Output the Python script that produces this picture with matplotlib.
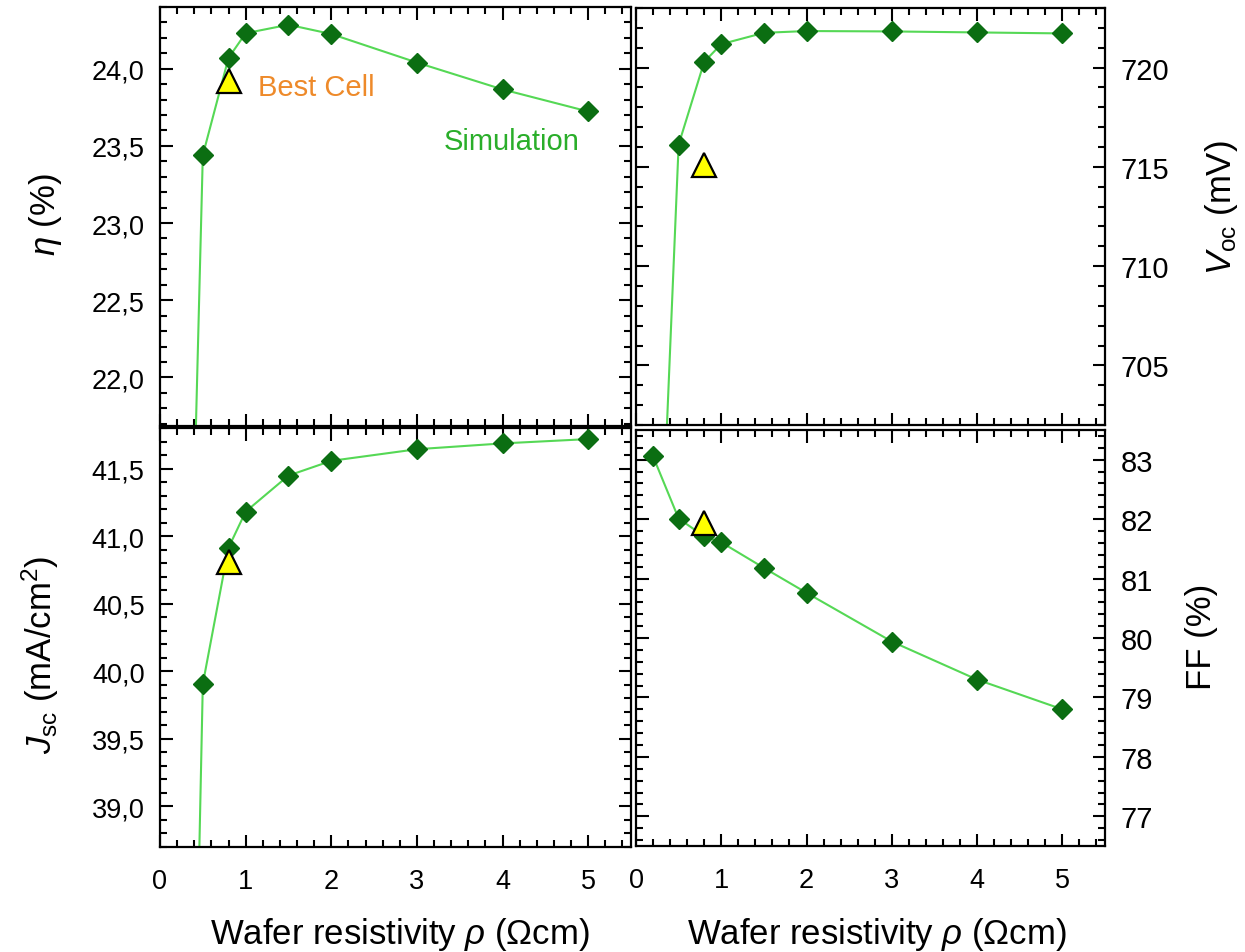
import numpy as np
import matplotlib
matplotlib.use("Agg")
import matplotlib.pyplot as plt
from matplotlib.ticker import MultipleLocator, FuncFormatter

plt.rcParams["font.family"] = ["Liberation Sans", "DejaVu Sans"]
plt.rcParams["mathtext.fontset"] = "custom"
plt.rcParams["mathtext.rm"] = "Liberation Sans"
plt.rcParams["mathtext.it"] = "Liberation Sans:italic"

# ── data ─────────────────────────────────────────────────────────────────────
rho_sim = [0.2, 0.5, 0.8, 1.0, 1.5, 2.0, 3.0, 4.0, 5.0]
eta_sim = [16.9, 23.44, 24.07, 24.23, 24.285, 24.225, 24.04, 23.866, 23.723]
voc_sim = [685.2, 716.12, 720.29, 721.18, 721.75, 721.84, 721.82, 721.77, 721.72]
jsc_sim = [30.9, 39.906, 40.914, 41.181, 41.448, 41.557, 41.643, 41.686, 41.718]
ff_sim = [83.056, 82.01, 81.71, 81.61, 81.18, 80.76, 79.94, 79.30, 78.80]

rho_best = [0.8]
eta_best = [23.92]
voc_best = [715.1]
jsc_best = [40.81]
ff_best = [81.93]

LINE_C = "#55d855"
MARK_C = "#0b6e12"
TRI_C = "#ffff00"

W, H = 1245, 953
fig = plt.figure(figsize=(W / 100, H / 100), dpi=100)


def px_axes(x0, y0, x1, y1):
    return fig.add_axes([x0 / W, 1 - y1 / H, (x1 - x0) / W, (y1 - y0) / H])


ax_eta = px_axes(160, 8, 631, 427)
ax_voc = px_axes(636, 9, 1105, 426)
ax_jsc = px_axes(160, 429, 631, 848)
ax_ff = px_axes(636, 431, 1105, 847)

comma = FuncFormatter(lambda v, _: f"{v:.1f}".replace(".", ","))
panels = [
    (ax_eta, eta_sim, eta_best, (21.685, 24.40), 0.5, 0.1, comma, 19.5),
    (ax_voc, voc_sim, voc_best, (702, 723), 5, 1, None, 21),
    (ax_jsc, jsc_sim, jsc_best, (38.7, 41.8), 0.5, 0.1, comma, 19.5),
    (ax_ff, ff_sim, ff_best, (76.5, 83.5), 1, 0.2, None, 21),
]

for ax, ysim, ybest, ylim, major, minor, fmt, fs in panels:
    ax.plot(rho_sim, ysim, color=LINE_C, lw=1.5, zorder=2)
    ax.plot(rho_sim, ysim, ls="none", marker="D", ms=10, color=MARK_C,
            mec=MARK_C, zorder=3)
    ax.plot(rho_best, ybest, ls="none", marker="^", ms=17.5, mfc=TRI_C,
            mec="black", mew=1.6, zorder=4)
    ax.set_xlim(0, 5.5)
    ax.set_ylim(*ylim)
    ax.xaxis.set_major_locator(MultipleLocator(1))
    ax.xaxis.set_minor_locator(MultipleLocator(0.2))
    ax.yaxis.set_major_locator(MultipleLocator(major))
    ax.yaxis.set_minor_locator(MultipleLocator(minor))
    if fmt is not None:
        ax.yaxis.set_major_formatter(fmt)
    ax.tick_params(which="both", direction="in", top=True, bottom=True,
                   left=True, right=True, width=1.5)
    ax.tick_params(which="major", length=9, labelsize=19.5, pad=11)
    ax.tick_params(which="minor", length=5)
    ax.tick_params(axis="y", labelsize=fs)
    ax.tick_params(axis="x", pad=15)
    for sp in ax.spines.values():
        sp.set_linewidth(1.6)

for ax in (ax_eta, ax_voc):
    ax.tick_params(labelbottom=False)
for ax in (ax_voc, ax_ff):
    ax.tick_params(labelleft=False, labelright=True)

lab_fs = 25
fig.text(45 / W, 1 - 215 / H, r"$\eta$ (%)", rotation=90, ha="center",
         va="center", fontsize=lab_fs)
fig.text(40 / W, 1 - 655 / H, r"$J_{\rm sc}$ (mA/cm$^{2}$)", rotation=90,
         ha="center", va="center", fontsize=lab_fs)
fig.text(1222 / W, 1 - 208 / H, r"$V_{\rm oc}$ (mV)", rotation=90,
         ha="center", va="center", fontsize=lab_fs)
fig.text(1202 / W, 1 - 637 / H, "FF (%)", rotation=90, ha="center",
         va="center", fontsize=lab_fs)
for xc in (400, 877):
    fig.text(xc / W, 1 - 935 / H, r"Wafer resistivity $\rho$ ($\Omega$cm)",
             ha="center", va="center", fontsize=lab_fs)

ax_eta.text(1.15, 23.88, "Best Cell", color="#ee8a2a", fontsize=21,
            va="center", ha="left")
ax_eta.text(3.31, 23.53, "Simulation", color="#2aae2a", fontsize=21,
            va="center", ha="left")

fig.savefig("out.png", dpi=100, facecolor="white")
